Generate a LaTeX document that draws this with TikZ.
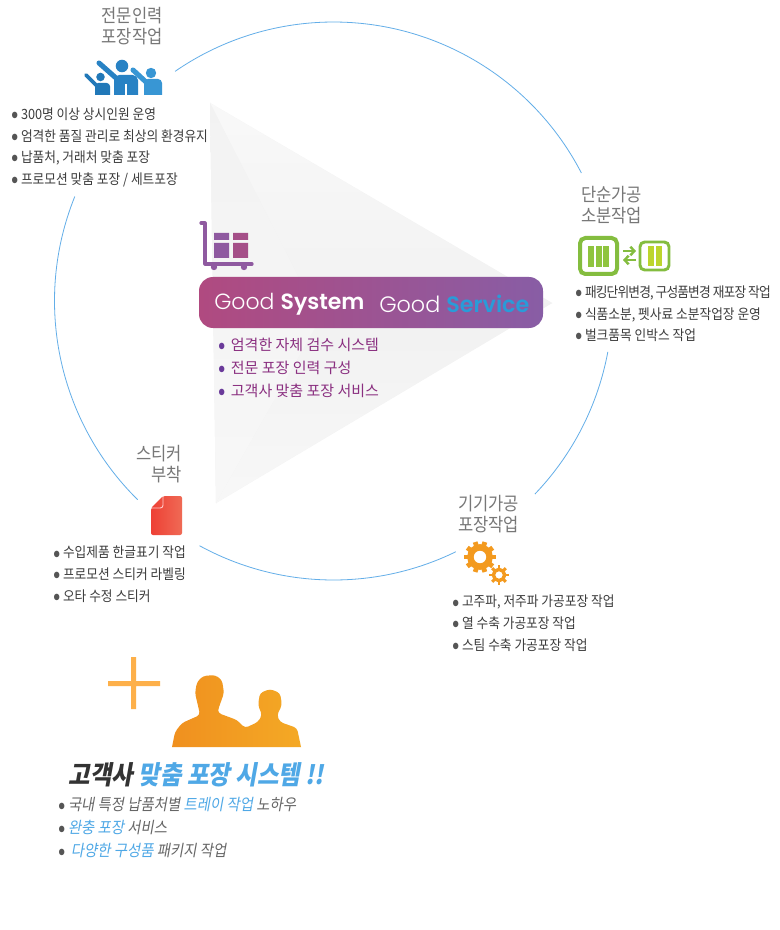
\documentclass[tikz,border=0pt]{standalone}
\usepackage{fontspec}
\usepackage{tikz}
\usetikzlibrary{positioning,arrows.meta}
\newfontfamily\krfont{Noto Sans CJK KR}[FakeStretch=0.9]
\newfontfamily\krwide{Noto Sans CJK KR}
\newfontfamily\krslant{Noto Sans CJK KR}[FakeStretch=0.9,FakeSlant=0.18]
\newfontfamily\goodfont{Poppins}[UprightFont=* Light,BoldFont=* SemiBold]
\definecolor{ringblue}{HTML}{63AEE8}
\definecolor{titlegray}{HTML}{777777}
\definecolor{listgray}{HTML}{3C3C3C}
\definecolor{dotgray}{HTML}{555555}
\definecolor{dotpurple}{HTML}{6A3A9A}
\definecolor{slantgray}{HTML}{666666}
\definecolor{slantblue}{HTML}{4FA8E6}
\definecolor{goodpurple}{HTML}{8A2F80}
\definecolor{cartpurple}{HTML}{8F5AA0}
\definecolor{cartpink}{HTML}{A54F88}
\definecolor{gearorange}{HTML}{F39A1F}
\definecolor{boxgreen}{HTML}{84BD3F}
\definecolor{barlime}{HTML}{BCD52C}
\definecolor{bargreen}{HTML}{8FC43F}
\definecolor{peopleleft}{HTML}{2178B8}
\definecolor{peoplemid}{HTML}{2882C4}
\definecolor{peopleright}{HTML}{3896D4}
\definecolor{pillleft}{HTML}{B04A80}
\definecolor{pillright}{HTML}{885DA5}
\definecolor{serviceblue}{HTML}{2A9BD8}
\definecolor{stickerleft}{HTML}{EE4035}
\definecolor{stickerright}{HTML}{EF6A55}
\definecolor{plusorange}{HTML}{FDB04A}
\definecolor{manleft}{HTML}{F0901F}
\definecolor{manright}{HTML}{F4A925}
\newcommand{\listdot}[2][7.3pt]{\makebox[#1][l]{\smash{\raisebox{-2.3pt}{\textcolor{#2}{\krfont\fontsize{18pt}{18pt}\selectfont •}}}}}
\begin{document}
\begin{tikzpicture}[x = .75pt, y = -.75pt,
    every node/.style = { inner sep = 0pt, align = left },
    titletext/.style = { font = \krfont\fontsize{13.8pt}{16pt}\selectfont, text = titlegray },
    listtext/.style = { font = \krfont\fontsize{10.6pt}{16.2pt}\selectfont, text = listgray, anchor = north west },
    slanttext/.style = { font = \krslant\fontsize{12pt}{17.3pt}\selectfont, text = slantgray, anchor = north west },
    ringarc/.style = { draw = ringblue, line width = .6pt },
    bluefill/.style = { fill = #1 },
    bluearm/.style = { draw = #1, line width = 3.8pt, line cap = round },
    swaparrow/.style = { draw = boxgreen, line width = 1.8pt, -{Straight Barb[length = 3pt, width = 6.5pt]} }]
    \useasboundingbox (0,0) rectangle (780,930);
    \fill[white] (0,0) rectangle (780,930);

    % fan behind the pill
    \fill[black!5] (210,103) -- (216,503) -- (552,303) -- cycle;
    \shade[top color = black!2.5, bottom color = black!5.5] (210,103) -- (320,319) -- (552,303) -- cycle;
    \shade[top color = black!5.5, bottom color = black!3] (216,503) -- (320,319) -- (552,303) -- cycle;
    \shade[top color = black!5, middle color = black!6, bottom color = black!3] (210,103) -- (216,503) -- (320,319) -- cycle;

    % ring
    \coordinate (hub) at (333.5,301);
    \draw[ringarc] (hub) ++(124.6:209.25pt) arc[start angle = 124.6, end angle = 27.3, radius = 209.25pt];
    \draw[ringarc] (hub) ++(-10.5:209.25pt) arc[start angle = -10.5, end angle = -43.8, radius = 209.25pt];
    \draw[ringarc] (hub) ++(-64:209.25pt) arc[start angle = -64, end angle = -118.7, radius = 209.25pt];
    \draw[ringarc] (hub) ++(-134.6:209.25pt) arc[start angle = -134.6, end angle = -202, radius = 209.25pt];

    % people
    \draw[bluearm = peoplemid] (99,63) -- (116,78);
    \fill[bluefill = peoplemid] (114,95) [rounded corners = 4pt] -- (114,75) -- (138,75) [sharp corners] -- (138,95) -- cycle;
    \fill[peoplemid] (122,66) circle (4.7pt);
    \draw[white, line width = .8pt] (126,84) -- (126,95);
    \draw[bluearm = peopleright] (133,70) -- (146,82);
    \fill[bluefill = peopleright] (144,95) [rounded corners = 3pt] -- (144,79) -- (162,79) [sharp corners] -- (162,95) -- cycle;
    \fill[peopleright] (151,73) circle (3.9pt);
    \draw[bluearm = peopleleft, line width = 2.8pt] (86,75) -- (97,86);
    \fill[bluefill = peopleleft] (95,95) [rounded corners = 2.5pt] -- (95,83) -- (110,83) [sharp corners] -- (110,95) -- cycle;
    \fill[peopleleft] (100.5,77) circle (3.2pt);

    \node[titletext, align = center] (titlepeople) at (132,26) { 전문인력 \\ 포장작업 };
    \node[listtext] (listpeople) at (11,107.5) { \listdot{dotgray}300명 이상 상시인원 운영 \\ \listdot{dotgray}엄격한 품질 관리로 최상의 환경유지 \\ \listdot{dotgray}납품처, 거래처 맞춤 포장 \\ \listdot{dotgray}프로모션 맞춤 포장 / 세트포장 };

    % cart
    \draw[cartpurple, line width = 2.4pt, line cap = round, line join = round] (201,223) -- (205,223) -- (205,264) -- (252,264);
    \fill[cartpurple] (214,267) circle (2.4pt) (244,267) circle (2.4pt);
    \fill[cartpurple] (214,233) rectangle (229,240) (214,243) rectangle (229,258);
    \fill[cartpink] (233,233) rectangle (248,240) (233,243) rectangle (248,258);

    % pill
    \shade[left color = pillleft, right color = pillright, rounded corners = 10.5pt]
        (199,277) rectangle (543,328);
    \node[font = \goodfont\fontsize{16.5pt}{20pt}\selectfont, text = white, anchor = west] (goodsystem) at (214,304) { Good \textbf{System} };
    \node[font = \goodfont\fontsize{16.7pt}{20pt}\selectfont, text = white, anchor = west] (goodservice) at (379,304) { Good \textcolor{serviceblue}{\textbf{Service}} };
    \node[listtext, font = \krwide\fontsize{11.25pt}{17pt}\selectfont, text = goodpurple] (listgood) at (218,338) { \listdot[9.5pt]{dotpurple}엄격한 자체 검수 시스템 \\ \listdot[9.5pt]{dotpurple}전문 포장 인력 구성 \\ \listdot[9.5pt]{dotpurple}고객사 맞춤 포장 서비스 };

    % green boxes
    \draw[boxgreen, line width = 3pt, rounded corners = 4pt] (580,238) rectangle (617,274);
    \foreach \barx in {588,595.5,603}
        \fill[bargreen] (\barx,246) rectangle ++(6,21);
    \draw[boxgreen, line width = 2.2pt, rounded corners = 3.5pt] (640,242) rectangle (669,270);
    \foreach \barx in {648,655.5}
        \fill[barlime] (\barx,246) rectangle ++(6.2,20);
    \draw[swaparrow] (623,251) -- (636,251);
    \draw[swaparrow] (636,260) -- (623,260);

    \node[titletext, anchor = north west] (titlepart) at (581,186) { 단순가공 \\ 소분작업 };
    \node[listtext] (listpart) at (575,285.5) { \listdot{dotgray}\addfontfeature{LetterSpace=-6}패킹단위변경, 구성품변경 재포장 작업 \\ \listdot{dotgray}식품소분, 펫사료 소분작업장 운영 \\ \listdot{dotgray}벌크품목 인박스 작업 };

    % sticker
    \shade[left color = stickerleft, right color = stickerright, rounded corners = 1.5pt]
        (163,496) -- (182,496) -- (182,535) -- (151,535) -- (151,508) -- cycle;
    \draw[white!80!red, line width = .7pt, rounded corners = 2pt] (151,508) -- (163,508) -- (163,496);

    \node[titletext, align = right, anchor = north east] (titlesticker) at (182,445) { 스티커 \\ 부착 };
    \node[listtext] (liststicker) at (53,546) { \listdot{dotgray}수입제품 한글표기 작업 \\ \listdot{dotgray}프로모션 스티커 라벨링 \\ \listdot{dotgray}오타 수정 스티커 };

    % gears
    \coordinate (gearbig) at (480,557);
    \coordinate (gearsmall) at (499,575);
    \foreach \gearang in {0,36,...,324}
        \draw[gearorange, line width = 3.6pt] (gearbig) ++(\gearang:7pt) -- ++(\gearang:4.8pt);
    \foreach \gearang in {0,45,...,315}
        \draw[gearorange, line width = 2.2pt] (gearsmall) ++(\gearang:4pt) -- ++(\gearang:3.2pt);
    \draw[gearorange, line width = 4.8pt] (gearbig) circle (7.2pt);
    \draw[gearorange, line width = 2.6pt] (gearsmall) circle (4.2pt);

    \node[titletext, anchor = north west] (titlegear) at (458,495) { 기기가공 \\ 포장작업 };
    \node[listtext] (listgear) at (452,595) { \listdot{dotgray}고주파, 저주파 가공포장 작업 \\ \listdot{dotgray}열 수축 가공포장 작업 \\ \listdot{dotgray}스팀 수축 가공포장 작업 };

    % plus and customers
    \fill[plusorange] (131,657) rectangle (136,709) (108,681) rectangle (160,686);
    \shade[left color = manleft, right color = manright]
        (172,747) [rounded corners = 2.5pt] -- (175,732) -- (182,723) -- (200,715) -- (199,710) -- (195,693) -- (197,682) -- (203,676) -- (215,675) -- (222,680)
        -- (224,693) -- (218,710) -- (218,713) -- (237,720) -- (245,728) -- (258,722) -- (262,715) -- (258,705) -- (260,693)
        -- (270,689) -- (280,693) -- (282,705) -- (277,715) -- (280,722) -- (297,728) [sharp corners] -- (301,747) -- cycle;

    \node[font = \krslant\bfseries\fontsize{19.5pt}{22pt}\selectfont, text = black!80, anchor = center] (customertitle) at (200,775)
        { 고객사 \textcolor{slantblue}{맞춤 포장 시스템 !!} };
    \node[slanttext] (listcustomer) at (58,797)
        { \listdot{dotgray}국내 특정 납품처별 \textcolor{slantblue}{트레이 작업} 노하우 \\ \listdot{dotgray}\textcolor{slantblue}{완충 포장} 서비스 \\ \listdot[9.5pt]{dotgray}\textcolor{slantblue}{다양한 구성품} 패키지 작업 };
\end{tikzpicture}
\end{document}
